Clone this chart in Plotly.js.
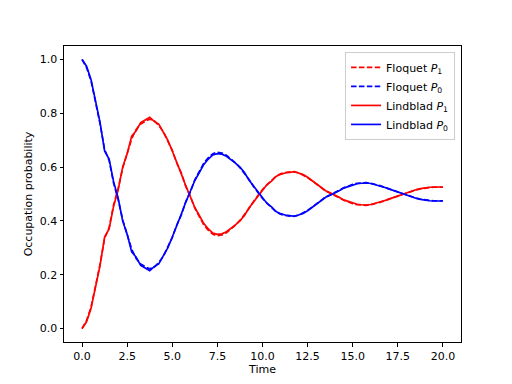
<!DOCTYPE html>
<html><head><meta charset="utf-8">
<script src="https://cdn.plot.ly/plotly-3.0.1.min.js"></script>
<style>html,body{margin:0;padding:0;background:#fff}#c{width:512px;height:384px}</style>
</head><body><div id="c"></div>
<script>
const time = [0,0.25,0.5,0.75,1,1.25,1.5,1.75,2,2.25,2.5,2.75,3,3.25,3.5,3.75,4,4.25,4.5,4.75,5,5.25,5.5,5.75,6,6.25,6.5,6.75,7,7.25,7.5,7.75,8,8.25,8.5,8.75,9,9.25,9.5,9.75,10,10.25,10.5,10.75,11,11.25,11.5,11.75,12,12.25,12.5,12.75,13,13.25,13.5,13.75,14,14.25,14.5,14.75,15,15.25,15.5,15.75,16,16.25,16.5,16.75,17,17.25,17.5,17.75,18,18.25,18.5,18.75,19,19.25,19.5,19.75,20];
const lindbladP1 = [0.000,0.025,0.075,0.150,0.235,0.340,0.370,0.455,0.515,0.600,0.650,0.715,0.735,0.765,0.775,0.785,0.770,0.760,0.730,0.700,0.660,0.620,0.575,0.530,0.490,0.450,0.420,0.390,0.370,0.355,0.350,0.352,0.360,0.372,0.385,0.400,0.420,0.448,0.470,0.495,0.515,0.535,0.548,0.565,0.573,0.578,0.580,0.583,0.578,0.572,0.562,0.550,0.538,0.524,0.512,0.505,0.498,0.488,0.478,0.472,0.466,0.462,0.460,0.459,0.461,0.465,0.470,0.475,0.481,0.487,0.492,0.498,0.505,0.511,0.516,0.520,0.523,0.525,0.526,0.527,0.526];
const lindbladP0 = [1.000,0.975,0.925,0.850,0.765,0.660,0.630,0.545,0.485,0.400,0.350,0.285,0.265,0.235,0.225,0.215,0.230,0.240,0.270,0.300,0.340,0.380,0.425,0.470,0.510,0.550,0.580,0.610,0.630,0.645,0.650,0.648,0.640,0.628,0.615,0.600,0.580,0.552,0.530,0.505,0.485,0.465,0.452,0.435,0.427,0.422,0.420,0.417,0.422,0.428,0.438,0.450,0.462,0.476,0.488,0.495,0.502,0.512,0.522,0.528,0.534,0.538,0.540,0.541,0.539,0.535,0.530,0.525,0.519,0.513,0.508,0.502,0.495,0.489,0.484,0.480,0.477,0.475,0.474,0.473,0.474];
const floquetP1 = [0.000,0.030,0.080,0.155,0.240,0.335,0.375,0.460,0.520,0.595,0.655,0.705,0.740,0.760,0.770,0.778,0.772,0.755,0.732,0.698,0.662,0.615,0.578,0.528,0.492,0.447,0.418,0.385,0.365,0.350,0.345,0.348,0.356,0.370,0.384,0.402,0.422,0.446,0.472,0.496,0.517,0.534,0.550,0.566,0.575,0.580,0.582,0.582,0.579,0.571,0.561,0.549,0.536,0.523,0.511,0.503,0.496,0.486,0.477,0.470,0.464,0.460,0.458,0.458,0.460,0.464,0.469,0.475,0.480,0.486,0.492,0.498,0.504,0.510,0.515,0.519,0.522,0.524,0.525,0.526,0.525];
const floquetP0 = [1.000,0.970,0.920,0.845,0.760,0.665,0.625,0.540,0.480,0.405,0.345,0.295,0.260,0.240,0.230,0.222,0.228,0.245,0.268,0.302,0.338,0.385,0.422,0.472,0.508,0.553,0.582,0.615,0.635,0.650,0.655,0.652,0.644,0.630,0.616,0.598,0.578,0.554,0.528,0.504,0.483,0.466,0.450,0.434,0.425,0.420,0.418,0.418,0.421,0.429,0.439,0.451,0.464,0.477,0.489,0.497,0.504,0.514,0.523,0.530,0.536,0.540,0.542,0.542,0.540,0.536,0.531,0.525,0.520,0.514,0.508,0.502,0.496,0.490,0.485,0.481,0.478,0.476,0.475,0.474,0.475];
const names = ['Floquet <i>P</i><sub>1</sub>','Floquet <i>P</i><sub>0</sub>','Lindblad <i>P</i><sub>1</sub>','Lindblad <i>P</i><sub>0</sub>'];
const xTicks = [0,2.5,5,7.5,10,12.5,15,17.5,20];
const yTicks = [0,0.2,0.4,0.6,0.8,1.0];

const dash = '5.5px,2.4px';
const lw = 1.67;
const traces = [
  {x: time, y: floquetP1, name: names[0], mode:'lines', line:{color:'#ff0000', width:lw, dash:dash}},
  {x: time, y: floquetP0, name: names[1], mode:'lines', line:{color:'#0000ff', width:lw, dash:dash}},
  {x: time, y: lindbladP1, name: names[2], mode:'lines', line:{color:'#ff0000', width:lw}},
  {x: time, y: lindbladP0, name: names[3], mode:'lines', line:{color:'#0000ff', width:lw}}
];
const font = {family:'DejaVu Sans', size:11, color:'#000'};
const axisCommon = {automargin:false, showline:true, mirror:true, linecolor:'#000', linewidth:1, ticks:'outside', ticklen:3.5, tickwidth:1, tickcolor:'#000', showgrid:false, zeroline:false, tickfont:font};
const layout = {
  width:512, height:384,
  margin:{l:64, r:51, t:46, b:42, autoexpand:false},
  paper_bgcolor:'#fff', plot_bgcolor:'#fff',
  font: font,
  showlegend:true,
  xaxis: Object.assign({}, axisCommon, {range:[-1,21], tickvals:xTicks, ticktext:xTicks.map(v=>v.toFixed(1)), title:{text:'Time', font:font, standoff:3}}),
  yaxis: Object.assign({}, axisCommon, {range:[-0.05,1.05], tickvals:yTicks, ticktext:yTicks.map(v=>v.toFixed(1)), title:{text:'Occupation probability', font:font, standoff:4}}),
  legend:{x:0.985, y:0.98, xanchor:'right', yanchor:'top', bgcolor:'rgba(255,255,255,0.8)', bordercolor:'#cccccc', borderwidth:1, font:font, tracegroupgap:0, itemwidth:30}
};
Plotly.newPlot('c', traces, layout, {staticPlot:true, displayModeBar:false});
</script></body></html>
